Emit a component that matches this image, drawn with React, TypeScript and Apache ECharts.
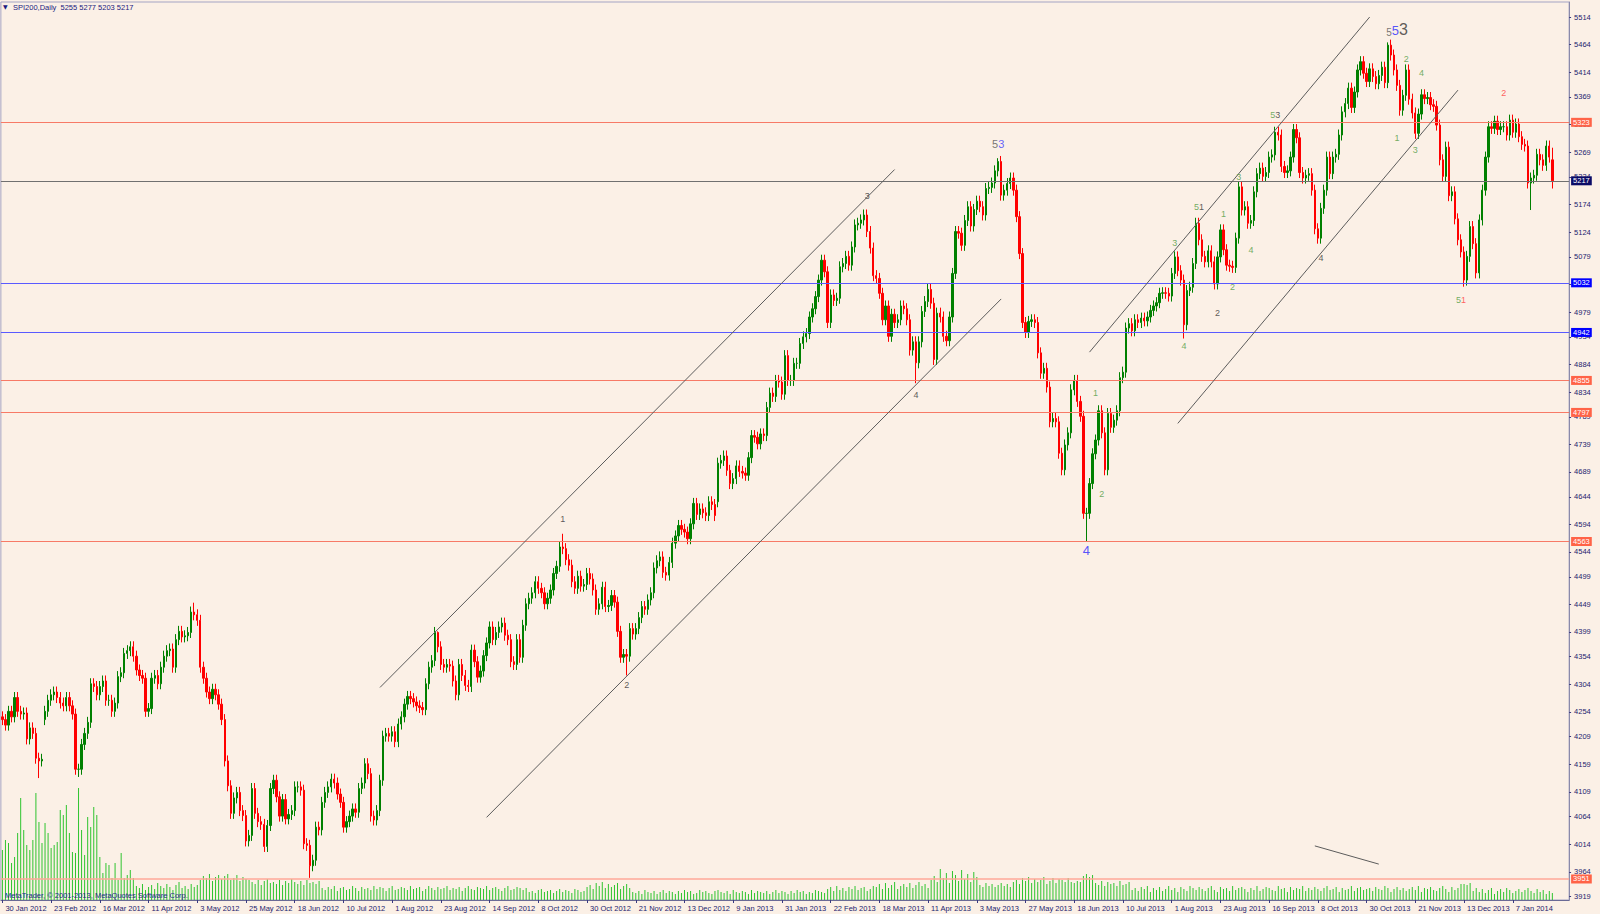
import React, { useEffect, useRef } from 'react';
import * as echarts from 'echarts';

// ---- data ----
const xLabels = ['30 Jan 2012','23 Feb 2012','16 Mar 2012','11 Apr 2012','3 May 2012','25 May 2012','18 Jun 2012','10 Jul 2012','1 Aug 2012','23 Aug 2012','14 Sep 2012','8 Oct 2012','30 Oct 2012','21 Nov 2012','13 Dec 2012','9 Jan 2013','31 Jan 2013','22 Feb 2013','18 Mar 2013','11 Apr 2013','3 May 2013','27 May 2013','18 Jun 2013','10 Jul 2013','1 Aug 2013','23 Aug 2013','16 Sep 2013','8 Oct 2013','30 Oct 2013','21 Nov 2013','13 Dec 2013','7 Jan 2014'];
const barsPerLabel = 16;
const slotCount = 515;

const yTicks = [3919,3964,4014,4064,4109,4159,4209,4254,4304,4354,4399,4449,4499,4544,4594,4644,4689,4739,4789,4834,4884,4934,4979,5029,5079,5124,5174,5224,5269,5319,5369,5414,5464,5514];

const closes = [
  // 0
  4240,4230,4255,4245,4280,4255,4250,4252,4205,4225,4215,4170,4165,4168,
  // 14
  4255,4275,4285,4290,4280,4270,4265,4280,4265,4250,4150,4150,4195,4215,4235,4305,
  // 30
  4300,4285,4300,4310,4275,4275,4255,4270,4318,4325,4360,4365,4372,4355,4330,4320,4315,4255,
  // 48
  4260,4315,4320,4305,4335,4355,4365,4368,4335,4385,4400,4390,4392,4398,4435,4430,4420,
  // 65
  4335,4315,4290,4278,4295,4285,4268,4240,4165,4120,4070,4098,4108,4075,4066,4020,4030,
  // 82
  4115,4070,4055,4050,4010,4048,4115,4130,4100,4065,4095,4060,4068,4075,4118,4118,4112,4015,4012,3975,3985,4045,4040,
  // 105
  4090,4108,4118,4132,4125,4105,4090,4045,4055,4065,4078,4072,4115,4125,4160,4142,4065,4058,4075,4130,4210,4215,4210,4218,4200,4232,4245,4268,4282,4278,4272,4265,
  // 137
  4262,4258,4305,4335,4347,4398,4372,4340,4335,4340,4337,4310,4285,4340,4320,4302,4300,4366,4345,4317,4328,4356,4379,
  // 160
  4408,4385,4398,4408,4415,4393,4385,4345,4340,4385,4353,4411,4450,4460,4470,4490,4478,4470,4450,4460,
  // 180
  4475,4505,4518,4553,4550,4530,4520,4490,4478,4500,4482,4485,4505,4495,4475,4440,4450,4480,4445,4447,
  // 200
  4465,4453,4400,4353,4358,4355,4405,4395,4405,4425,4445,4440,4457,4470,4515,4528,4535,4507,4502,4525,
  // 220
  4560,4573,4592,4585,4580,4568,4595,4632,4612,4622,4615,4610,4635,4630,4610,4705,4710,4718,4692,4668,
  // 240
  4677,4700,4690,4687,4683,4715,4755,4752,4740,4758,4755,4806,4832,4826,4855,4852,
  // 256
  4830,4900,4855,4855,4886,4886,4922,4934,4940,4970,4985,5007,5037,5073,5052,4960,5010,5000,5004,5061,
  // 276
  5067,5080,5064,5097,5137,5140,5146,5155,5125,5095,5045,5040,5013,4965,4990,4935,4975,4960,4965,4990,
  // 296
  4985,4965,4910,4925,4887,4925,4980,4998,5020,4995,4893,4977,4970,4935,4927,4970,5049,5125,5122,5100,
  // 316
  5145,5170,5135,5165,5180,5170,5155,5203,5205,5213,5235,5252,5191,5200,5212,5222,5200,5152,5085,4960,
  // 336
  4942,4962,4965,4960,4905,4868,4877,4843,4780,4786,4780,4723,4693,4738,4760,4838,4855,4817,4790,4614,
  // 356
  4614,4668,4722,4747,4800,4760,4693,4795,4770,4783,4800,4860,4870,4950,4958,4945,4965,4960,4968,4963,4970,
  // 377
  4982,4990,4996,5013,5014,5013,5008,5049,5079,5054,5037,4956,5018,5024,5067,5140,5110,5080,5070,5090,5070,5030,5079,
  // 400
  5128,5092,5064,5062,5060,5113,5206,5164,5170,5140,5145,5197,5230,5240,5225,5232,5260,5264,5305,5300,
  // 420
  5243,5232,5235,5260,5310,5295,5232,5222,5227,5230,5200,5130,5113,5167,5200,5260,5230,5260,5265,5300,
  // 440
  5342,5357,5385,5350,5378,5418,5433,5412,5397,5420,5406,5393,5408,5423,5395,5463,5445,5418,5390,5345,
  // 460
  5372,5418,5365,5340,5303,5338,5373,5366,5368,5355,5352,5318,5255,5225,5278,5190,5197,5148,5110,5088,
  // 480
  5037,5080,5134,5103,5050,5146,5200,5260,5315,5312,5325,5310,5315,5315,5300,5327,5305,5320,5297,5283,
  // 500
  5280,5213,5222,5227,5265,5255,5245,5280,5260,5217,
];
const firstOpen = 4245;
const openFix: Record<number, number> = { 14: 4240, 235: 4635, 509: 5255 };
const highFix: Record<number, number> = { 63: 4452, 143: 4400, 184: 4577, 327: 5258, 455: 5468, 509: 5277 };
const lowFix: Record<number, number> = { 12: 4134, 25: 4136, 86: 4000, 101: 3953, 205: 4320, 300: 4850, 356: 4563, 388: 4931, 480: 5025, 502: 5164, 509: 5203 };
const wick = 10;

const volumes = [
  50,60,57,37,43,67,102,70,55,50,
  60,107,78,57,77,67,52,55,58,90,
  85,95,67,48,47,112,70,45,83,73,
  93,85,43,27,37,35,22,37,20,47,
  22,25,30,22,14,12,16,10,13,15,
  11,17,14,12,16,13,10,15,18,12,
  14,11,16,13,15,20,24,22,26,19,
  23,25,21,24,26,20,22,25,19,23,
  21,20,18,16,20,15,19,21,17,18,
  16,20,15,19,17,21,18,16,19,15,
  20,17,18,16,19,12,10,13,11,14,
  9,12,13,10,11,14,12,9,13,11,
  12,10,14,11,13,12,9,12,14,10,
  11,13,12,10,14,11,12,13,9,11,
  14,12,10,13,11,12,14,10,12,11,
  13,9,12,14,11,10,13,12,11,14,
  10,12,13,11,9,12,14,10,11,13,
  12,10,12,8,9,7,10,11,8,9,
  10,7,9,11,8,10,9,7,11,10,
  8,9,13,15,11,17,14,18,12,16,
  13,15,17,11,14,16,12,8,7,9,
  6,10,8,7,9,6,8,10,7,9,
  8,6,9,7,10,8,9,6,7,10,
  8,9,7,6,9,10,8,7,9,6,
  10,8,7,9,8,6,10,7,9,8,
  7,9,6,8,10,7,9,8,6,9,
  7,10,8,9,6,8,7,10,9,8,
  7,11,13,9,14,10,12,9,13,11,
  14,10,12,13,9,11,14,13,16,11,
  17,12,15,18,11,14,16,13,17,12,
  15,18,14,16,12,20,24,18,31,22,
  27,17,29,25,19,30,21,26,18,28,
  23,15,13,17,14,16,13,15,17,14,
  16,13,18,20,16,22,19,23,17,21,
  18,20,23,16,19,22,17,21,20,18,
  22,18,17,19,18,24,26,23,25,17,
  15,19,14,18,16,17,14,19,15,16,
  18,10,12,9,13,11,14,8,12,10,
  13,9,11,14,10,12,8,13,11,9,
  14,12,10,13,11,9,12,14,10,8,
  13,11,12,9,14,10,12,13,11,8,
  12,10,14,9,11,13,12,10,9,14,
  11,12,8,13,10,12,11,14,9,12,
  10,13,11,9,12,14,10,11,13,8,
  12,10,11,14,9,12,13,10,11,12,
  9,13,11,10,14,12,8,11,13,10,
  12,9,11,13,10,14,8,12,11,13,
  10,9,12,14,11,8,13,10,12,16,
  16,15,17,9,12,8,11,7,10,12,
  6,9,11,8,12,10,7,9,11,8,
  10,12,9,7,11,8,10,6,9,7,
];

const redLevels = [5323, 4855, 4797, 4563, 3951];
const blueLevels = [5032, 4942];
const lastPrice = 5217;

// trend lines: [[barIndex, price], [barIndex, price]]
const trendLines = [
  [[124, 4298.3], [293, 5237.4]],
  [[159, 4062.7], [328, 5002.8]],
  [[357, 4906.3], [449, 5513.9]],
  [[386, 4777.1], [478, 5381.4]],
  [[431, 4011], [452, 3978]],
];

// wave labels: bar index, price, text, tone letters (one per character)
const waveLabels = [
  { at: [184, 4603], text: '1', tones: 'k' },
  { at: [205, 4303], text: '2', tones: 'k' },
  { at: [284, 5189], text: '3', tones: 'k' },
  { at: [327, 5283], text: '53', tones: 'mn' },
  { at: [300, 4829], text: '4', tones: 'k' },
  { at: [356, 4546], text: '4', tones: 'B' },
  { at: [359, 4833], text: '1', tones: 'g' },
  { at: [361, 4649], text: '2', tones: 'g' },
  { at: [385, 5105], text: '3', tones: 'g' },
  { at: [388, 4918], text: '4', tones: 'g' },
  { at: [393, 5169], text: '51', tones: 'gk' },
  { at: [401, 5157], text: '1', tones: 'g' },
  { at: [410, 5092], text: '4', tones: 'g' },
  { at: [404, 5025], text: '2', tones: 'g' },
  { at: [399, 4977], text: '2', tones: 'k' },
  { at: [406, 5223], text: '3', tones: 'g' },
  { at: [418, 5336], text: '53', tones: 'gk' },
  { at: [433, 5077], text: '4', tones: 'k' },
  { at: [458, 5492], text: '553', tones: 'sBK' },
  { at: [461, 5437], text: '2', tones: 'g' },
  { at: [466, 5412], text: '4', tones: 'g' },
  { at: [458, 5294], text: '1', tones: 'g' },
  { at: [464, 5273], text: '3', tones: 'g' },
  { at: [493, 5376], text: '2', tones: 'r' },
  { at: [479, 5001], text: '51', tones: 'gr' },
];

// ---- styles ----
const FONT = 'Liberation Sans';
const BG = '#fbf0e6';
const NAVY = '#23236e';
const BULL = '#008000';
const BEAR = '#ff0000';
const toneStyle: Record<string, { color: string; fontSize: number }> = {
  k: { color: '#333333', fontSize: 9 },
  g: { color: '#4e9a3e', fontSize: 9 },
  r: { color: '#ff3a3a', fontSize: 9 },
  m: { color: '#555555', fontSize: 11 },
  n: { color: '#3b3bff', fontSize: 11 },
  s: { color: '#555555', fontSize: 10 },
  B: { color: '#2b2bff', fontSize: 13 },
  K: { color: '#333333', fontSize: 16 },
};

function buildCandles() {
  return closes.map((c, i) => {
    const o = openFix[i] ?? (i === 0 ? firstOpen : closes[i - 1]);
    const hi = highFix[i] ?? Math.max(o, c) + wick;
    const lo = lowFix[i] ?? Math.min(o, c) - wick;
    return [o, c, lo, hi];
  });
}

function waveData() {
  return waveLabels.map((w) => {
    const rich: Record<string, any> = {};
    let f = '';
    for (let j = 0; j < w.text.length; j++) {
      const t = w.tones[j];
      const key = 't' + (t === t.toUpperCase() ? 'U' + t : t);
      rich[key] = { ...toneStyle[t], fontFamily: FONT, verticalAlign: 'bottom' };
      f += '{' + key + '|' + w.text[j] + '}';
    }
    return {
      value: w.at,
      label: { show: true, position: 'inside', formatter: f, rich },
    };
  });
}

export default function App() {
  const ref = useRef<HTMLDivElement>(null);
  useEffect(() => {
    if (!ref.current) return;
    const chart = echarts.init(ref.current, undefined, { renderer: 'svg' });
    const cats = Array.from({ length: slotCount }, (_, i) => String(i));
    const showLabel = (idx: number) => idx % barsPerLabel === 0 && idx / barsPerLabel < xLabels.length;

    const levelData: any[] = [];
    redLevels.forEach((v) =>
      levelData.push({
        yAxis: v,
        lineStyle: { color: v === 3951 ? '#ffa898' : '#f77a66', width: v === 3951 ? 1.6 : 1, type: 'solid' },
        label: { backgroundColor: '#ff6347' },
      })
    );
    blueLevels.forEach((v) =>
      levelData.push({
        yAxis: v,
        lineStyle: { color: '#5a5aff', width: 1, type: 'solid' },
        label: { backgroundColor: '#0000ff' },
      })
    );
    levelData.push({
      yAxis: lastPrice,
      lineStyle: { color: '#707070', width: 1, type: 'solid' },
      label: { backgroundColor: '#0b0b66' },
    });
    const trendData = trendLines.map((l) => [
      { coord: l[0], lineStyle: { color: '#5c5c5c', width: 1, type: 'solid' }, label: { show: false } },
      { coord: l[1] },
    ]);

    chart.setOption({
      animation: false,
      backgroundColor: BG,
      textStyle: { fontFamily: FONT },
      grid: {
        left: 0.88, right: 30.9, top: 2, bottom: 14,
        show: true, borderColor: '#a4a4c4', borderWidth: 1, backgroundColor: BG,
      },
      xAxis: {
        type: 'category',
        data: cats,
        boundaryGap: true,
        axisLine: { lineStyle: { color: '#6a6a96', width: 1 } },
        axisTick: {
          show: true, alignWithLabel: true, length: 3,
          interval: (idx: number) => showLabel(idx),
          lineStyle: { color: '#3a3a80' },
        },
        axisLabel: {
          interval: (idx: number) => showLabel(idx),
          formatter: (_v: string, idx: number) => xLabels[idx / barsPerLabel] ?? '',
          align: 'left',
          padding: [0, 0, 0, 3],
          margin: 4,
          fontSize: 7.5,
          color: NAVY,
          fontFamily: FONT,
        },
        splitLine: { show: false },
      },
      yAxis: [
        {
          type: 'value',
          position: 'right',
          min: 3912.9,
          max: 5541.2,
          scale: true,
          splitLine: { show: false },
          axisLine: { show: true, lineStyle: { color: '#8a8aaa', width: 1 } },
          axisTick: { show: true, length: 2, customValues: yTicks, lineStyle: { color: '#3a3a80' } },
          axisLabel: {
            customValues: yTicks,
            formatter: (v: number) => String(v),
            margin: 5,
            fontSize: 7.5,
            color: NAVY,
            fontFamily: FONT,
          },
        },
        { type: 'value', min: 0, max: 898, show: false },
      ],
      series: [
        {
          type: 'bar',
          yAxisIndex: 1,
          data: volumes,
          barWidth: 1,
          silent: true,
          itemStyle: { color: '#2fc42f' },
          z: 1,
        },
        {
          type: 'candlestick',
          data: buildCandles(),
          barWidth: 1.8,
          silent: true,
          itemStyle: { color: BULL, color0: BEAR, borderColor: BULL, borderColor0: BEAR, borderWidth: 1 },
          z: 2,
          markLine: {
            silent: true,
            symbol: ['none', 'none'],
            precision: 0,
            animation: false,
            label: {
              show: true,
              position: 'end',
              distance: 2,
              formatter: (p: any) => String(p.value),
              color: '#ffffff',
              fontSize: 7.5,
              fontFamily: FONT,
              padding: [1, 2, 0, 2],
            },
            emphasis: { disabled: true },
            data: [...levelData, ...trendData],
          },
        },
        {
          type: 'scatter',
          data: waveData(),
          symbolSize: 1,
          itemStyle: { color: 'rgba(0,0,0,0)' },
          silent: true,
          z: 5,
        },
      ],
      graphic: [
        { type: 'text', left: 3, top: 3.5, style: { text: '▼', fontSize: 6, fill: '#1a1a80', fontFamily: 'DejaVu Sans' } },
        {
          type: 'text', left: 13, top: 3.5,
          style: { text: 'SPI200,Daily  5255 5277 5203 5217', fontSize: 7.5, fill: '#1a1a80', fontFamily: FONT },
        },
        {
          type: 'text', left: 5, top: 891.5,
          style: { text: 'MetaTrader, © 2001-2013, MetaQuotes Software Corp.', fontSize: 7.5, fill: '#1e2a8a', fontFamily: FONT },
          z: 10,
        },
      ],
    });
    return () => chart.dispose();
  }, []);
  return <div ref={ref} style={{ position: 'fixed', left: 0, top: 0, width: 1600, height: 914 }} />;
}
